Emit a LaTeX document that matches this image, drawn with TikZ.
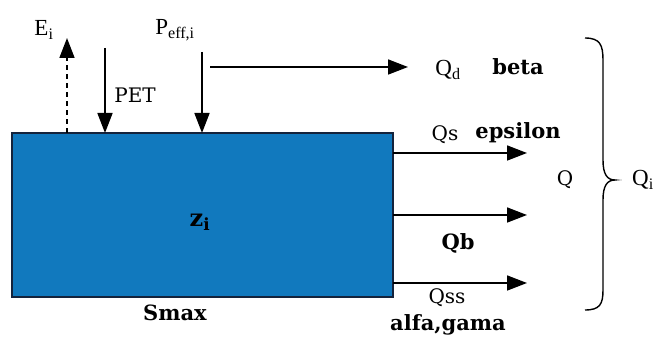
\documentclass[tikz,border=0pt]{standalone}
\usepackage{fontspec}
\setmainfont{Liberation Serif}
\newfontfamily\slabfont{DejaVu Serif}
\usetikzlibrary{arrows.meta}
\definecolor{storeblue}{RGB}{17,121,190}
\definecolor{storeedge}{RGB}{20,35,60}

\begin{document}
\begin{tikzpicture}[x=1pt,y=-1pt,
	flow/.style={line width=1.7pt, -{Triangle[length=20pt,width=15pt]}},
	lbl/.style={font=\fontsize{23}{26}\selectfont},
	slab/.style={font=\slabfont\fontsize{20}{23}\selectfont},
	bslab/.style={font=\slabfont\bfseries\fontsize{21}{24}\selectfont}]
			
			\useasboundingbox (0,0) rectangle (665,339);
			
			%% storage tank
			\node[draw=storeedge, fill=storeblue, line width=1.4pt, minimum width=381pt, minimum height=164pt, inner sep=0pt] (S) at (202.5,215) {};
			
			\coordinate (E0) at (67,133); 
			\coordinate (E1) at (67,38); 
			\coordinate (PET0) at (105,48);
			\coordinate (PET1) at (105,133); 
			\coordinate (P0) at (202,52);
			\coordinate (P1) at (202,133);
			\coordinate (D0) at (210,67);
			\coordinate (D1) at (408,67);
			
			\coordinate (QS0) at (393,153); 
			\coordinate (QS1) at (527,153); 
			\coordinate (QB0) at (393,215); 
			\coordinate (QB1) at (527,215); 
			\coordinate (QSS0) at (393,283); 
			\coordinate (QSS1) at (527,283); 
			
			%% vertical fluxes
			\draw[flow, dashed, dash pattern=on 5pt off 4pt] (E0) -- (E1);
			\draw[flow] (PET0) -- (PET1);
			\draw[flow] (P0) -- (P1);
			\draw[flow] (D0) -- (D1);
			
			%% outflows
			\draw[flow] (QS0) -- (QS1);
			\draw[flow] (QB0) -- (QB1);
			\draw[flow] (QSS0) -- (QSS1);
			
			%% brace round the outflows
			\draw[line width=1.4pt] (585,38) .. controls (600,38) and (603,45) .. (603,60) -- (603,160) .. controls (603,174) and (607,180) .. (615,180) .. controls (607,180) and (603,186) .. (603,200) -- (603,290) .. controls (603,304) and (600,310) .. (585,310);
			
			\node[lbl] (Ei) at (44,30) {E\textsubscript{i}};
			\node[lbl] (Peff) at (175,30) {P\textsubscript{eff,i}};
			\node[slab] (PET) at (135,95) {PET};
			\node[lbl] (Qd) at (448,70) {Q\textsubscript{d}};
			\node[bslab] (beta) at (518,67) {beta};
			\node[slab] (Qs) at (445,135) {Qs};
			\node[bslab] (eps) at (518,133) {epsilon};
			\node[slab] (Q) at (565,180) {Q};
			\node[lbl] (Qi) at (643,180) {Q\textsubscript{i}};
			\node[bslab] (Qb) at (458,243) {Qb};
			\node[slab] (Qss) at (447,298) {Qss};
			\node[bslab] (ag) at (448,325) {alfa,gama};
			\node[bslab, font=\slabfont\bfseries\fontsize{24}{27}\selectfont] (zi) at (200,222) {z\textsubscript{i}};
			\node[bslab] (Smax) at (175,313) {Smax};
			
		\end{tikzpicture}
\end{document}
